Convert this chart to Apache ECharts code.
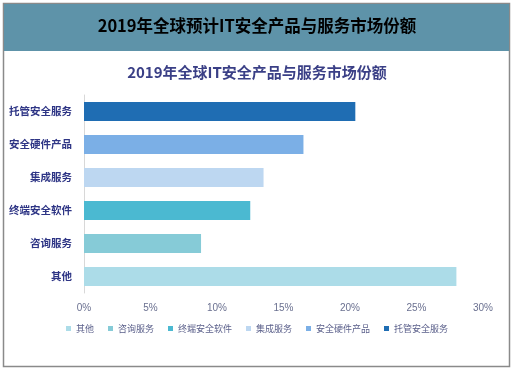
<!DOCTYPE html>
<html><head><meta charset="utf-8">
<script src="https://cdn.jsdelivr.net/npm/echarts@6/dist/echarts.min.js"></script>
<style>html,body{margin:0;padding:0;background:#fff}#c{width:514px;height:370px}</style>
</head><body><div id="c"></div>
<script>
const categories = ['托管安全服务','安全硬件产品','集成服务','终端安全软件','咨询服务','其他'];
const values = [20.4, 16.5, 13.5, 12.5, 8.8, 28];
const colors = ['#1f6db3','#7bafe6','#bdd7f1','#4bb9d1','#86cbd7','#acdce8'];
const legendOrder = ['其他','咨询服务','终端安全软件','集成服务','安全硬件产品','托管安全服务'];
const xTicks = [0,5,10,15,20,25,30];

const series = categories.map((name, i) => ({
  name: name,
  type: 'bar',
  stack: 'all',
  barWidth: 19,
  itemStyle: {color: colors[i]},
  data: categories.map((c, j) => j === i ? values[i] : null)
}));

const chart = echarts.init(document.getElementById('c'), null, {renderer:'canvas'});
chart.setOption({
  animation: false,
  backgroundColor: '#fff',
  graphic: [
    {type:'rect', shape:{x:3.5,y:3.5,width:506,height:363}, style:{fill:'none',stroke:'#8a8a8a',lineWidth:1.5}, z:-1},
    {type:'rect', shape:{x:4,y:4,width:505,height:47}, style:{fill:'#5e93a9'}, z:-1},
    {type:'text', left:'center', top:17, style:{text:'2019年全球预计IT安全产品与服务市场份额', font:'bold 16.5px "Noto Sans CJK SC", serif', fill:'#000'}}
  ],
  title: {
    text: '2019年全球IT安全产品与服务市场份额',
    left: 'center', top: 60,
    textStyle: {fontSize: 15, fontWeight: 'bold', color: '#3a3f86', fontFamily: '"Noto Sans CJK SC"'}
  },
  legend: {
    data: legendOrder,
    bottom: 32,
    left: 'center',
    itemWidth: 5, itemHeight: 5, itemGap: 14,
    icon: 'rect',
    textStyle: {fontSize: 9, color: '#5a5f8a', fontFamily: '"Noto Sans CJK SC"'}
  },
  grid: {left: 84, right: 31, top: 95, height: 198, containLabel: false},
  xAxis: {
    type: 'value', min: 0, max: 30, interval: 5,
    axisLabel: {formatter: v => xTicks.includes(v) ? v + '%' : '', color: '#6a7090', fontSize: 10, margin: 10},
    splitLine: {show: false},
    axisLine: {show: false}, axisTick: {show: false}
  },
  yAxis: {
    type: 'category', data: categories, inverse: true,
    axisLine: {show: true, lineStyle: {color: '#d8d8d8'}},
    axisTick: {show: false},
    axisLabel: {color: '#2e3585', fontWeight: 'bold', fontSize: 10.5, margin: 12, fontFamily: '"Noto Sans CJK SC"'}
  },
  series: series
});
</script></body></html>
